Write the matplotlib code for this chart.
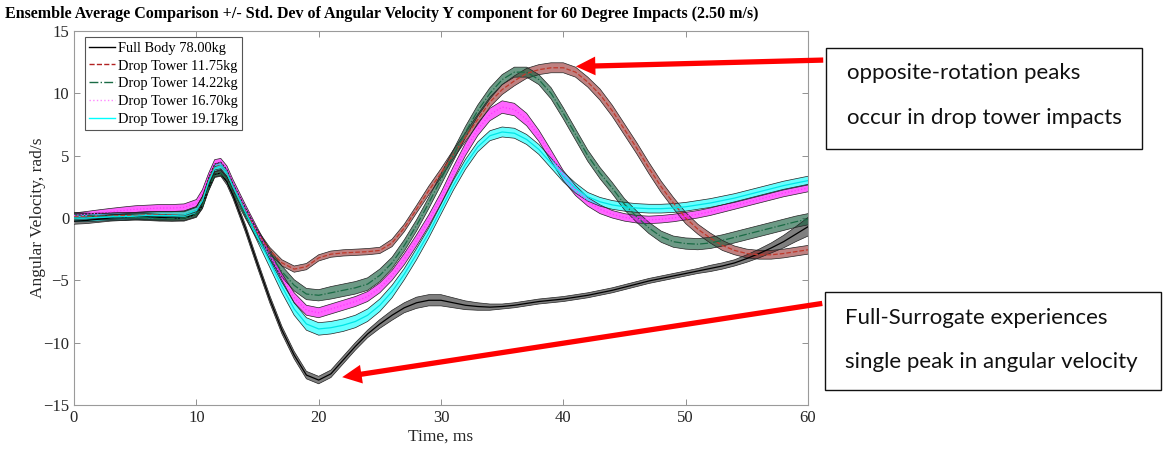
import numpy as np
import matplotlib
matplotlib.use("Agg")
import matplotlib.pyplot as plt
from matplotlib.patches import Rectangle
from matplotlib.lines import Line2D

# ---------------- data ----------------
time_ms = [0, 1, 2, 3, 4, 5, 6, 7, 8, 9, 10, 10.5, 11, 11.5, 12, 12.5, 13,
           14, 15, 16, 17, 18, 19, 20, 21, 22, 23, 24, 25, 26, 27, 28, 29, 30,
           31, 32, 33, 34, 35, 36, 37, 38, 39, 40, 41, 42, 43, 44, 45, 46, 47,
           48, 49, 50, 51, 52, 53, 54, 55, 56, 57, 58, 59, 60]

full_body_mean = [-0.25, -0.2, -0.1, 0.0, 0.05, 0.1, 0.1, 0.05, 0.0, 0.0, 0.3, 1.0, 2.4, 3.5, 3.6, 2.9, 1.8,
                  -0.8, -3.7, -6.5, -9.0, -11.0, -12.6, -13.0, -12.5, -11.4, -10.3, -9.3, -8.5, -7.8, -7.2, -6.8, -6.6, -6.6,
                  -6.8, -7.0, -7.1, -7.15, -7.1, -7.0, -6.85, -6.7, -6.6, -6.5, -6.35, -6.2, -6.0, -5.8, -5.55, -5.3, -5.05,
                  -4.85, -4.65, -4.45, -4.25, -4.05, -3.85, -3.6, -3.25, -2.85, -2.4, -1.9, -1.3, -0.7]
full_body_std = [0.25, 0.25, 0.25, 0.25, 0.25, 0.25, 0.25, 0.25, 0.25, 0.25, 0.25, 0.25, 0.25, 0.25, 0.25, 0.25, 0.25,
                 0.3, 0.3, 0.3, 0.3, 0.3, 0.3, 0.3, 0.3, 0.3, 0.3, 0.3, 0.35, 0.4, 0.4, 0.45, 0.45, 0.45,
                 0.4, 0.35, 0.3, 0.25, 0.2, 0.2, 0.2, 0.2, 0.2, 0.2, 0.2, 0.2, 0.2, 0.2, 0.2, 0.2, 0.2,
                 0.2, 0.2, 0.2, 0.2, 0.25, 0.25, 0.25, 0.3, 0.35, 0.4, 0.5, 0.6, 0.75]

dt1175_mean = [0.1, 0.1, 0.15, 0.15, 0.2, 0.2, 0.25, 0.25, 0.25, 0.25, 0.6, 1.5, 3.0, 4.1, 4.2, 3.6, 2.5,
               0.6, -1.2, -2.6, -3.6, -4.1, -3.9, -3.2, -2.9, -2.8, -2.75, -2.7, -2.6, -2.0, -0.8, 0.7, 2.2, 3.6,
               5.1, 6.5, 7.9, 9.3, 10.3, 11.0, 11.6, 11.9, 12.05, 12.05, 11.7, 10.9, 9.9, 8.6, 7.1, 5.6, 4.0,
               2.5, 1.2, 0.0, -0.9, -1.6, -2.2, -2.6, -2.85, -2.95, -2.95, -2.85, -2.7, -2.55]
dt1175_std = [0.25, 0.25, 0.25, 0.25, 0.25, 0.25, 0.25, 0.25, 0.25, 0.25, 0.25, 0.25, 0.25, 0.25, 0.25, 0.25, 0.25,
              0.25, 0.25, 0.25, 0.25, 0.25, 0.25, 0.25, 0.25, 0.25, 0.25, 0.25, 0.25, 0.3, 0.3, 0.3, 0.35, 0.35,
              0.35, 0.35, 0.4, 0.4, 0.4, 0.4, 0.4, 0.4, 0.4, 0.4, 0.4, 0.4, 0.45, 0.45, 0.45, 0.45, 0.45,
              0.45, 0.45, 0.45, 0.4, 0.4, 0.4, 0.35, 0.35, 0.35, 0.35, 0.35, 0.35, 0.35]

dt1422_mean = [0.25, 0.2, 0.15, 0.1, 0.1, 0.05, 0.0, -0.05, -0.05, 0.0, 0.3, 1.0, 2.4, 3.5, 3.6, 3.1, 2.1,
               0.3, -1.4, -2.9, -4.3, -5.4, -6.1, -6.2, -6.0, -5.8, -5.6, -5.3, -4.6, -3.6, -2.2, -0.6, 1.2, 3.1,
               5.0, 6.9, 8.6, 10.0, 11.1, 11.7, 11.7, 11.1, 10.0, 8.4, 6.7, 5.0, 3.6, 2.4, 1.1, 0.1, -0.8,
               -1.5, -1.9, -2.05, -2.1, -2.0, -1.8, -1.55, -1.3, -1.05, -0.8, -0.55, -0.3, -0.1]
dt1422_std = [0.2, 0.2, 0.2, 0.2, 0.2, 0.2, 0.2, 0.2, 0.2, 0.2, 0.2, 0.2, 0.2, 0.2, 0.2, 0.2, 0.25,
              0.3, 0.35, 0.4, 0.45, 0.45, 0.45, 0.45, 0.5, 0.5, 0.5, 0.5, 0.5, 0.45, 0.45, 0.45, 0.45, 0.45,
              0.45, 0.45, 0.45, 0.45, 0.4, 0.4, 0.4, 0.4, 0.45, 0.45, 0.45, 0.45, 0.45, 0.45, 0.45, 0.45, 0.45,
              0.45, 0.45, 0.45, 0.45, 0.45, 0.45, 0.45, 0.45, 0.45, 0.45, 0.45, 0.45, 0.45]

dt1670_mean = [0.2, 0.3, 0.4, 0.5, 0.6, 0.7, 0.75, 0.8, 0.8, 0.85, 1.2, 2.0, 3.3, 4.4, 4.5, 3.9, 2.8,
               0.8, -1.1, -3.0, -4.8, -6.4, -7.4, -7.6, -7.3, -7.0, -6.7, -6.3, -5.6, -4.6, -3.3, -1.8, -0.2, 1.6,
               3.6, 5.5, 7.1, 8.3, 8.9, 8.7, 7.9, 6.6, 5.0, 3.4, 2.2, 1.3, 0.7, 0.3, 0.05, -0.1, -0.15,
               -0.1, 0.0, 0.15, 0.3, 0.5, 0.75, 1.0, 1.25, 1.5, 1.75, 2.0, 2.2, 2.4]
dt1670_std = [0.2, 0.22, 0.25, 0.27, 0.28, 0.28, 0.28, 0.28, 0.28, 0.28, 0.28, 0.28, 0.28, 0.28, 0.28, 0.28, 0.28,
              0.3, 0.3, 0.35, 0.35, 0.4, 0.4, 0.4, 0.4, 0.4, 0.4, 0.4, 0.4, 0.4, 0.45, 0.45, 0.45, 0.45,
              0.5, 0.5, 0.5, 0.5, 0.5, 0.5, 0.5, 0.45, 0.45, 0.4, 0.4, 0.35, 0.35, 0.3, 0.3, 0.3, 0.3,
              0.3, 0.3, 0.3, 0.3, 0.3, 0.3, 0.3, 0.3, 0.3, 0.3, 0.3, 0.3, 0.3]

dt1917_mean = [0.0, 0.0, 0.05, 0.1, 0.1, 0.15, 0.2, 0.2, 0.2, 0.25, 0.6, 1.4, 2.9, 4.0, 4.2, 3.6, 2.5,
               0.5, -1.5, -3.5, -5.5, -7.3, -8.5, -8.9, -8.8, -8.6, -8.3, -7.8, -7.0, -5.9, -4.5, -2.9, -1.2, 0.7,
               2.6, 4.3, 5.7, 6.6, 6.9, 6.8, 6.3, 5.5, 4.4, 3.3, 2.4, 1.7, 1.3, 1.05, 0.9, 0.8, 0.75,
               0.75, 0.8, 0.9, 1.05, 1.2, 1.4, 1.6, 1.85, 2.1, 2.35, 2.6, 2.8, 3.0]
dt1917_std = [0.3, 0.3, 0.3, 0.3, 0.3, 0.3, 0.3, 0.3, 0.3, 0.3, 0.3, 0.3, 0.3, 0.3, 0.3, 0.3, 0.3,
              0.35, 0.4, 0.45, 0.5, 0.5, 0.5, 0.5, 0.5, 0.5, 0.5, 0.5, 0.5, 0.5, 0.45, 0.45, 0.4, 0.4,
              0.4, 0.4, 0.4, 0.4, 0.4, 0.4, 0.4, 0.4, 0.4, 0.4, 0.4, 0.35, 0.35, 0.35, 0.35, 0.35, 0.35,
              0.35, 0.35, 0.35, 0.35, 0.35, 0.35, 0.35, 0.35, 0.35, 0.35, 0.35, 0.35, 0.35]

labels = ["Full Body 78.00kg", "Drop Tower 11.75kg", "Drop Tower 14.22kg",
          "Drop Tower 16.70kg", "Drop Tower 19.17kg"]

title = "Ensemble Average Comparison +/- Std. Dev of Angular Velocity Y component for 60 Degree Impacts (2.50 m/s)"
note_top = ["opposite-rotation peaks", "occur in drop tower impacts"]
note_bottom = ["Full-Surrogate experiences", "single peak in angular velocity"]

# ---------------- styling ----------------
W, H = 1168, 454
fig = plt.figure(figsize=(W / 100, H / 100), dpi=100)
serif = ["Liberation Serif", "DejaVu Serif"]

ax = fig.add_axes([74 / W, (H - 405) / H, (808 - 74) / W, (405 - 31) / H])

t = np.array(time_ms)
series = [
    (full_body_mean, full_body_std, "#000000", "-", "#000000", 0.5, "#000000"),
    (dt1175_mean, dt1175_std, "#8b1a1a", "--", "#c0392b", 0.55, "#b22222"),
    (dt1422_mean, dt1422_std, "#145c3c", "-.", "#1a6b45", 0.62, "#1a6b45"),
    (dt1670_mean, dt1670_std, "#ff00ff", ":", "#ff33ff", 0.6, "#ff88ff"),
    (dt1917_mean, dt1917_std, "#00ffff", "-", "#00e5e5", 0.6, "#00ffff"),
]

handles = []
for (m, s, fc, ls, lc, alpha, legc), lab in zip(series, labels):
    m = np.array(m)
    s = np.array(s)
    ax.fill_between(t, m - s, m + s, facecolor=fc, alpha=alpha, edgecolor="none", zorder=2)
    ax.plot(t, m + s, color="#222222", lw=0.5, zorder=3)
    ax.plot(t, m - s, color="#222222", lw=0.5, zorder=3)
    ax.plot(t, m, color=lc, ls=ls, lw=0.9, zorder=4)
    handles.append(Line2D([], [], color=legc, ls=ls, lw=1.0))

ax.set_xlim(0, 60)
ax.set_ylim(-15, 15)
ax.set_xticks([0, 10, 20, 30, 40, 50, 60])
ax.set_yticks([-15, -10, -5, 0, 5, 10, 15])
ax.tick_params(direction="in", top=True, right=True, length=4, width=0.6,
               color="#808080", labelcolor="#262626", labelsize=12)
for lab in ax.get_xticklabels() + ax.get_yticklabels():
    lab.set_family(serif)
for sp in ax.spines.values():
    sp.set_color("#9a9a9a")
    sp.set_linewidth(0.8)

ax.set_xlabel("Time, ms", family=serif, fontsize=12.5, color="#262626", labelpad=2)
ax.set_ylabel("Angular Velocity, rad/s", family=serif, fontsize=12.5, color="#262626", labelpad=-2)

leg = ax.legend(handles, labels, loc="upper left", bbox_to_anchor=(0.015, 0.983),
                prop={"family": serif, "size": 10.4}, frameon=True, fancybox=False,
                framealpha=1, edgecolor="#555555", borderpad=0.3, labelspacing=0.32,
                handlelength=1.75, handletextpad=0.2, borderaxespad=0)
leg.get_frame().set_linewidth(0.8)

fig.text(5 / W, 1 - 14 / H, title, family=serif, weight="bold", fontsize=11.55,
         ha="left", va="center", color="#000000")

# annotation boxes
sans = ["Lato", "DejaVu Sans"]
for (x0, y0, x1, y1), lines, tx, tys in [
    ((826, 48, 1142, 149), note_top, 847, (73, 118)),
    ((825, 292, 1161, 390), note_bottom, 845, (318, 362)),
]:
    fig.add_artist(Rectangle((x0 / W, 1 - y1 / H), (x1 - x0) / W, (y1 - y0) / H,
                             transform=fig.transFigure, facecolor="white",
                             edgecolor="#111111", lw=1.0))
    for line, ty in zip(lines, tys):
        fig.text(tx / W, 1 - ty / H, line, family=sans, fontsize=16,
                 ha="left", va="center", color="#111111")

# red arrows (tails at the boxes, tips at data points)
arrow_kw = dict(arrowstyle="simple,head_length=1.4,head_width=1.35,tail_width=0.38",
                mutation_scale=10, facecolor="#ff0000", edgecolor="none", lw=0)
ax.annotate("", xy=(40.8, 12.15), xycoords="data",
            xytext=(826 / W, 1 - 60 / H), textcoords="figure fraction",
            arrowprops=arrow_kw, annotation_clip=False, zorder=10)
ax.annotate("", xy=(21.7, -12.8), xycoords="data",
            xytext=(825 / W, 1 - 303 / H), textcoords="figure fraction",
            arrowprops=arrow_kw, annotation_clip=False, zorder=10)

fig.savefig("out.png", dpi=100)
